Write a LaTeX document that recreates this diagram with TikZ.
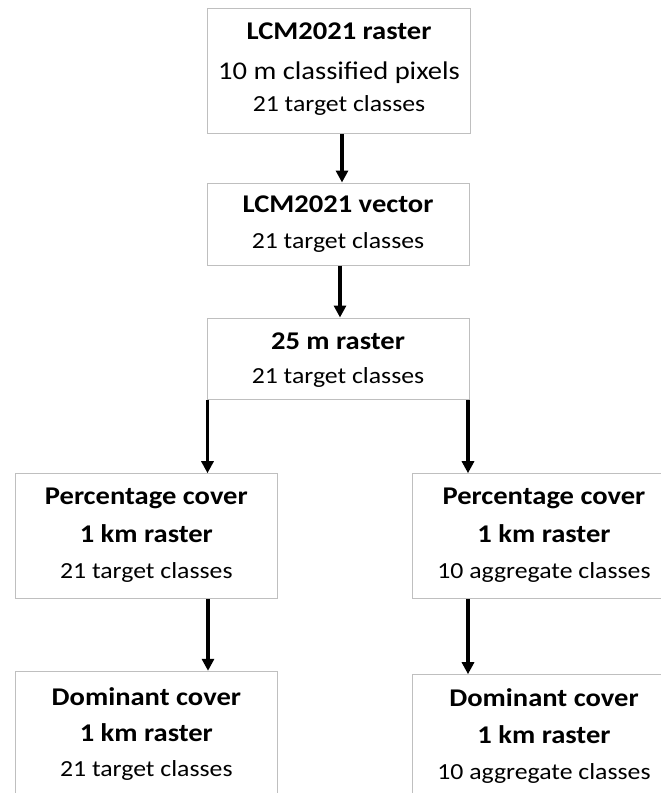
\documentclass[tikz,border=0pt]{standalone}
\usepackage{fontspec}
\setmainfont{Carlito}[FakeStretch=1.12]
\usetikzlibrary{arrows.meta}
\definecolor{boxline}{HTML}{BFBFBF}
\tikzset{
  box/.style={draw=boxline, line width=1pt, fill=white, inner sep=0pt},
  head/.style={anchor=base, inner sep=0pt, font=\fontsize{25.5}{30}\selectfont\bfseries},
  big/.style={anchor=base, inner sep=0pt, font=\fontsize{25.5}{30}\selectfont},
  small/.style={anchor=base, inner sep=0pt, font=\fontsize{23}{27}\selectfont},
  arr/.style={line width=3.5pt, -{Triangle[length=12pt,width=12pt]}}
}
\begin{document}
\begin{tikzpicture}[x=1pt,y=-1pt]
\useasboundingbox (0,0) rectangle (661,793);
\clip (0,0) rectangle (661,793);
% boxes
\node[box, minimum width=263.4pt, minimum height=125pt] (B1) at (339,70.8) {};
\node[box, minimum width=262pt, minimum height=82pt] (B2) at (338,224) {};
\node[box, minimum width=262pt, minimum height=81pt] (B3) at (338,358.5) {};
\node[box, minimum width=261.3pt, minimum height=124.6pt] (L1) at (146.35,536) {};
\node[box, minimum width=262.6pt, minimum height=124.6pt] (R1) at (544,536) {};
\node[box, minimum width=261.3pt, minimum height=125pt] (L2) at (146.35,733.8) {};
\node[box, minimum width=262.6pt, minimum height=125pt] (R2) at (544,737.2) {};
% texts
\node[head] (t11) at (339,39.3) {LCM2021 raster};
\node[big] (t12) at (339,79) {10 m classified pixels};
\node[small] (t13) at (339,111.7) {21 target classes};
\node[head] (t21) at (338,212.7) {LCM2021 vector};
\node[small] (t22) at (338,248.3) {21 target classes};
\node[head] (t31) at (338,349) {25 m raster};
\node[small] (t32) at (338,383.3) {21 target classes};
\node[head] (l11) at (146.35,504) {Percentage cover};
\node[head] (l12) at (146.35,542.3) {1 km raster};
\node[small] (l13) at (146.35,578.3) {21 target classes};
\node[head] (r11) at (544,504) {Percentage cover};
\node[head] (r12) at (544,542.3) {1 km raster};
\node[small] (r13) at (544,578.3) {10 aggregate classes};
\node[head] (l21) at (146.35,705) {Dominant cover};
\node[head] (l22) at (146.35,741.7) {1 km raster};
\node[small] (l23) at (146.35,776.7) {21 target classes};
\node[head] (r21) at (544,706) {Dominant cover};
\node[head] (r22) at (544,743.3) {1 km raster};
\node[small] (r23) at (544,779.3) {10 aggregate classes};
% arrows
\coordinate (c1) at (342,0);
\coordinate (c2) at (340,0);
\coordinate (c3) at (207.5,0);
\coordinate (c4) at (468,0);
\coordinate (c5) at (208,0);
\draw[arr] (B1.south -| c1) -- (B2.north -| c1);
\draw[arr] (B2.south -| c2) -- (B3.north -| c2);
\draw[arr] (B3.south -| c3) -- (L1.north -| c3);
\draw[arr] (B3.south -| c4) -- (R1.north -| c4);
\draw[arr] (L1.south -| c5) -- (L2.north -| c5);
\draw[arr] (R1.south -| c4) -- (R2.north -| c4);
\end{tikzpicture}
\end{document}
